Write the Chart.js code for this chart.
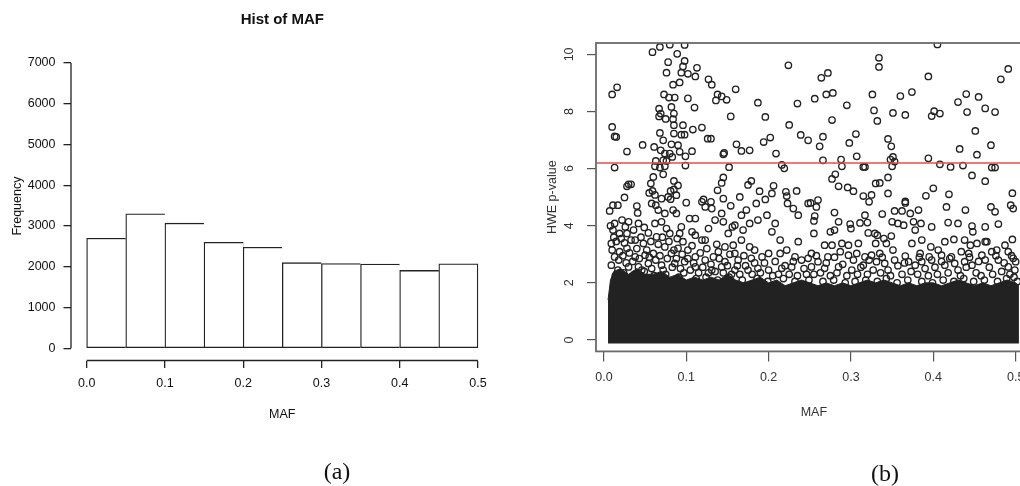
<!DOCTYPE html>
<html>
<head>
<meta charset="utf-8">
<script src="https://cdn.jsdelivr.net/npm/chart.js@4.4.1/dist/chart.umd.min.js"></script>
<style>
  html, body { margin: 0; padding: 0; background: #fff; overflow: hidden; }
  body { width: 1020px; height: 486px; position: relative; }
  canvas { position: absolute; top: 0; }
  #histChart { left: 0; }
  #hweChart { left: 540px; }
  .caption {
    position: absolute;
    font-family: "Liberation Serif", "Times New Roman", serif;
    font-size: 24px;
    color: #111;
    transform: translate(-50%, -50%);
  }
</style>
</head>
<body>
<canvas id="histChart" width="510" height="486"></canvas>
<canvas id="hweChart" width="520" height="486"></canvas>
<div class="caption" style="left:337px;top:471px">(a)</div>
<div class="caption" style="left:885px;top:473px">(b)</div>
<script>
// (a) histogram of MAF
const mafBreaks = [0, 0.05, 0.1, 0.15, 0.2, 0.25, 0.3, 0.35, 0.4, 0.45, 0.5];
const mafCounts = [2700, 3300, 3070, 2600, 2480, 2100, 2080, 2065, 1910, 2075];
const histXTicks = [0, 0.1, 0.2, 0.3, 0.4, 0.5];
const histYTicks = [0, 1000, 2000, 3000, 4000, 5000, 6000, 7000];

// (b) HWE vs MAF
const hweXTicks = [0, 0.1, 0.2, 0.3, 0.4, 0.5];
const hweYTicks = [0, 2, 4, 6, 8, 10];
const hweXMin = -0.0096, hweXMax = 0.5196;
const hweYMin = -0.4, hweYMax = 10.4;
const hweThreshold = 6.2;

// single points that can be told apart (MAF, HWE)
const hwePoints = [
  [0.059,10.08],[0.068,10.26],[0.080,10.34],[0.098,10.33],[0.089,10.02],[0.078,9.73],[0.098,9.77],[0.096,9.58],
  [0.113,9.53],[0.076,9.36],[0.094,9.36],[0.102,9.32],[0.111,9.23],[0.092,9.02],[0.084,8.94],[0.127,9.13],
  [0.131,8.94],[0.016,8.85],[0.010,8.60],[0.073,8.60],[0.079,8.49],[0.086,8.49],[0.102,8.46],[0.138,8.60],
  [0.143,8.53],[0.136,8.39],[0.149,8.41],[0.160,8.78],[0.224,9.62],[0.187,8.31],[0.235,8.28],[0.110,8.14],
  [0.067,8.10],[0.069,7.93],[0.067,7.83],[0.082,8.16],[0.085,7.93],[0.075,7.74],[0.084,7.73],[0.154,7.83],
  [0.196,7.81],[0.010,7.46],[0.013,7.13],[0.015,7.11],[0.096,7.52],[0.085,7.52],[0.108,7.37],[0.119,7.44],
  [0.068,7.25],[0.085,7.23],[0.098,7.19],[0.094,7.19],[0.225,7.53],[0.239,7.18],[0.248,6.99],[0.126,7.05],
  [0.130,7.05],[0.202,7.09],[0.194,6.93],[0.047,6.83],[0.028,6.60],[0.061,6.76],[0.072,6.99],[0.082,6.85],
  [0.090,6.82],[0.069,6.64],[0.074,6.53],[0.080,6.53],[0.083,6.41],[0.092,6.59],[0.099,6.43],[0.107,6.61],
  [0.146,6.55],[0.145,6.50],[0.161,6.85],[0.167,6.62],[0.177,6.64],[0.209,6.53],[0.063,6.27],[0.072,6.29],
  [0.076,6.27],[0.074,6.08],[0.062,6.08],[0.068,6.04],[0.099,6.11],[0.072,5.80],[0.013,6.04],[0.152,6.05],
  [0.216,6.13],[0.219,6.01],[0.060,5.71],[0.057,5.48],[0.030,5.45],[0.033,5.45],[0.028,5.38],[0.085,5.57],
  [0.090,5.41],[0.081,5.22],[0.059,5.22],[0.055,5.15],[0.062,5.08],[0.085,5.27],[0.088,5.07],[0.145,5.69],
  [0.143,5.50],[0.138,5.24],[0.179,5.57],[0.175,5.43],[0.189,5.21],[0.206,5.40],[0.204,5.13],[0.221,5.19],
  [0.222,5.04],[0.234,5.22],[0.025,4.99],[0.070,4.95],[0.081,4.93],[0.121,4.92],[0.145,4.95],[0.165,5.01],
  [0.196,4.92],
  [0.405,10.35],[0.334,9.88],[0.334,9.56],[0.264,9.18],[0.272,9.35],[0.394,9.23],[0.491,9.49],[0.482,9.13],
  [0.256,8.45],[0.270,8.60],[0.278,8.65],[0.295,8.22],[0.326,8.60],[0.360,8.54],[0.374,8.68],[0.328,8.04],
  [0.332,7.67],[0.351,7.95],[0.366,7.88],[0.277,7.70],[0.398,7.84],[0.401,8.01],[0.408,7.93],[0.430,8.33],
  [0.440,8.61],[0.455,8.51],[0.441,7.98],[0.463,8.11],[0.475,7.98],[0.451,7.32],[0.266,7.12],[0.262,6.78],
  [0.298,6.90],[0.306,7.21],[0.345,7.04],[0.349,6.78],[0.266,6.29],[0.288,6.32],[0.289,6.08],[0.307,6.43],
  [0.315,6.06],[0.317,6.06],[0.348,6.32],[0.351,6.41],[0.353,6.25],[0.350,6.08],[0.394,6.36],[0.408,6.15],
  [0.421,6.06],[0.436,6.11],[0.432,6.69],[0.453,6.49],[0.470,6.82],[0.447,5.76],[0.471,6.04],[0.475,6.04],
  [0.281,5.80],[0.277,5.64],[0.285,5.38],[0.296,5.34],[0.303,5.21],[0.315,5.04],[0.325,5.08],[0.330,5.48],
  [0.335,5.50],[0.345,5.69],[0.345,5.13],[0.400,5.31],[0.391,5.05],[0.419,5.10],[0.463,5.56],[0.496,5.14],
  [0.260,4.90],[0.366,4.85],
  [0.011,4.72],[0.017,4.72],[0.007,4.52],[0.040,4.69],[0.041,4.45],[0.078,5.01],[0.058,4.78],[0.063,4.72],
  [0.066,4.55],[0.074,4.43],[0.084,4.55],[0.088,4.43],[0.100,4.81],[0.119,4.84],[0.130,4.84],[0.123,4.66],
  [0.131,4.60],[0.154,4.70],[0.167,4.37],[0.159,4.02],[0.173,4.55],[0.185,4.78],[0.223,4.78],[0.230,4.60],
  [0.236,4.37],[0.248,4.78],[0.198,4.37],[0.187,4.20],[0.177,4.08],[0.169,3.85],[0.208,4.08],[0.204,3.79],
  [0.214,3.50],[0.236,3.44],[0.143,4.43],[0.135,4.20],[0.145,4.14],[0.156,3.96],[0.151,3.73],[0.104,4.25],
  [0.111,4.25],[0.094,3.96],[0.107,3.79],[0.111,3.67],[0.119,3.50],[0.092,3.73],[0.127,3.90],[0.123,3.50],
  [0.096,3.44],[0.022,4.20],[0.030,4.14],[0.026,3.96],[0.013,4.08],[0.011,3.85],[0.019,3.73],[0.028,3.73],
  [0.042,4.08],[0.049,3.94],[0.054,3.75],[0.062,4.08],[0.070,4.14],[0.076,3.90],[0.080,3.73],[0.064,3.61],
  [0.038,3.50],[0.048,3.38],[0.009,3.38],[0.167,3.50],[0.177,3.26],[0.183,3.15],[0.157,3.32],[0.147,3.26],
  [0.159,3.03],[0.139,3.09],[0.133,2.91],[0.102,3.15],[0.090,3.21],[0.082,3.03],[0.074,3.26],[0.060,3.03],
  [0.050,2.97],[0.038,2.91],[0.028,3.21],[0.019,3.09],[0.013,2.91],[0.111,2.91],[0.123,2.80],[0.147,2.74],
  [0.163,2.80],[0.179,2.86],[0.192,2.91],[0.200,3.03],[0.214,3.03],[0.222,3.15],[0.232,2.91],[0.240,2.80],
  [0.248,2.86],[0.228,2.56],[0.216,2.51],[0.200,2.45],[0.187,2.51],[0.175,2.45],[0.159,2.45],[0.143,2.56],
  [0.131,2.45],[0.111,2.56],[0.098,2.74],[0.086,2.68],[0.070,2.62],[0.054,2.68],[0.042,2.56],[0.030,2.56],
  [0.017,2.45],[0.009,2.62],
  [0.322,4.84],[0.251,4.80],[0.258,4.66],[0.256,4.34],[0.255,4.17],[0.255,3.73],[0.280,4.46],[0.285,4.14],
  [0.275,3.79],[0.280,3.85],[0.299,4.06],[0.300,3.90],[0.311,4.10],[0.317,4.37],[0.320,4.11],[0.338,4.41],
  [0.353,4.52],[0.362,4.52],[0.372,4.43],[0.382,4.55],[0.366,4.80],[0.350,4.14],[0.357,4.08],[0.364,4.02],
  [0.376,4.14],[0.378,3.85],[0.385,4.08],[0.398,3.96],[0.416,4.66],[0.439,4.55],[0.470,4.66],[0.475,4.49],
  [0.494,4.72],[0.497,4.60],[0.418,4.11],[0.430,4.08],[0.447,3.99],[0.448,3.79],[0.463,3.96],[0.479,4.06],
  [0.321,3.75],[0.329,3.73],[0.332,3.67],[0.349,3.64],[0.340,3.55],[0.343,3.38],[0.330,3.38],[0.309,3.38],
  [0.297,3.32],[0.289,3.38],[0.268,3.32],[0.277,3.32],[0.374,3.38],[0.386,3.50],[0.397,3.26],[0.414,3.44],
  [0.425,3.52],[0.438,3.50],[0.445,3.32],[0.453,3.38],[0.463,3.44],[0.465,3.44],[0.487,3.32],[0.496,3.52],
  [0.252,3.03],[0.260,2.74],[0.272,2.91],[0.287,3.09],[0.297,2.97],[0.307,3.03],[0.317,2.91],[0.325,2.97],
  [0.335,3.03],[0.351,3.15],[0.366,2.94],[0.384,3.03],[0.395,2.91],[0.406,3.15],[0.410,2.97],[0.422,2.91],
  [0.434,3.09],[0.443,3.03],[0.459,2.97],[0.471,3.09],[0.477,3.15],[0.491,3.09],[0.497,2.86],[0.500,2.74],
  [0.252,2.56],[0.268,2.51],[0.285,2.56],[0.301,2.45],[0.315,2.62],[0.331,2.74],[0.341,2.68],[0.353,2.80],
  [0.370,2.74],[0.378,2.62],[0.386,2.74],[0.398,2.80],[0.414,2.62],[0.426,2.68],[0.438,2.74],[0.447,2.62],
  [0.463,2.80],[0.479,2.80],[0.491,2.56],[0.499,2.45],
  // crowded band just above the saturated mass
  [0.008,4.00],[0.012,3.60],[0.010,3.15],[0.015,3.45],[0.018,2.80],[0.021,3.55],[0.023,2.95],[0.025,3.40],
  [0.027,2.70],[0.031,3.05],[0.033,3.50],[0.035,2.75],[0.036,3.85],[0.040,3.20],[0.043,2.85],[0.045,3.60],
  [0.046,2.45],[0.052,3.15],[0.055,2.90],[0.057,3.45],[0.058,2.50],[0.063,2.80],[0.066,3.35],[0.068,2.95],
  [0.071,3.60],[0.072,2.45],[0.077,2.85],[0.079,3.45],[0.083,2.55],[0.085,3.15],[0.088,2.85],[0.089,3.55],
  [0.093,2.50],[0.095,3.00],[0.097,2.35],[0.102,2.85],[0.105,2.45],[0.107,3.30],[0.109,2.70],[0.115,2.35],
  [0.117,3.05],[0.120,2.55],[0.125,3.20],[0.127,2.35],[0.130,2.65],[0.135,2.40],[0.137,3.35],[0.140,2.85],
  [0.145,2.35],[0.150,2.60],[0.153,3.00],[0.155,2.30],[0.162,2.60],[0.165,2.30],[0.170,2.95],[0.172,2.60],
  [0.180,2.30],[0.183,2.70],[0.190,2.35],[0.195,2.70],[0.205,2.25],[0.208,2.75],[0.212,2.30],[0.220,2.60],
  [0.225,2.30],[0.230,2.75],[0.235,2.25],[0.243,2.50],[0.246,2.30],
  [0.255,2.30],[0.258,2.95],[0.263,2.35],[0.270,2.70],[0.275,2.25],[0.280,2.90],[0.283,2.35],[0.290,2.65],
  [0.295,2.25],[0.303,2.80],[0.308,2.30],[0.312,2.55],[0.320,2.30],[0.322,2.80],[0.327,2.45],[0.336,2.35],
  [0.338,2.90],[0.345,2.45],[0.348,2.25],[0.357,2.60],[0.362,2.30],[0.365,2.70],[0.373,2.40],[0.381,2.30],
  [0.383,2.90],[0.390,2.50],[0.394,2.25],[0.402,2.55],[0.405,2.30],[0.410,2.75],[0.418,2.35],[0.420,2.85],
  [0.430,2.45],[0.433,2.25],[0.440,2.55],[0.444,2.90],[0.452,2.35],[0.455,2.75],[0.458,2.25],[0.468,2.55],
  [0.472,2.30],[0.476,2.95],[0.483,2.40],[0.486,2.70],[0.493,2.30],[0.495,2.95],[0.498,2.20],
  // ragged upper edge of the mass
  [0.014,2.25],[0.024,2.35],[0.037,2.30],[0.049,2.40],[0.061,2.25],[0.075,2.30],[0.091,2.20],[0.112,2.15],
  [0.124,2.20],[0.138,2.10],[0.152,2.20],[0.168,2.10],[0.186,2.15],[0.199,2.05],[0.218,2.15],[0.232,2.05],
  [0.249,2.10],[0.266,2.05],[0.279,2.10],[0.293,2.00],[0.305,2.05],[0.318,2.10],[0.332,2.05],[0.343,2.15],
  [0.356,2.00],[0.369,2.10],[0.386,2.05],[0.399,2.00],[0.412,2.10],[0.425,2.05],[0.437,2.15],[0.449,2.05],
  [0.462,2.10],[0.478,2.05],[0.489,2.15],[0.502,2.05]
];

// upper edge of the saturated black mass of overlapping circles
const cloudMaf = [0.005, 0.008, 0.012, 0.02, 0.03, 0.04, 0.05, 0.06, 0.07, 0.08, 0.09, 0.10, 0.11, 0.12,
  0.13, 0.14, 0.15, 0.16, 0.17, 0.18, 0.19, 0.20, 0.21, 0.22, 0.23, 0.24, 0.25, 0.26, 0.27, 0.28, 0.29,
  0.30, 0.31, 0.32, 0.33, 0.34, 0.35, 0.36, 0.37, 0.38, 0.39, 0.40, 0.41, 0.42, 0.43, 0.44, 0.45, 0.46,
  0.47, 0.48, 0.49, 0.50, 0.504];
const cloudTop = [1.4, 2.1, 2.4, 2.5, 2.3, 2.5, 2.3, 2.3, 2.4, 2.2, 2.3, 2.1, 2.2, 2.1,
  2.2, 2.1, 2.3, 2.1, 2.0, 2.1, 2.2, 2.0, 2.1, 1.9, 2.0, 2.1, 2.0, 1.9, 2.0, 1.9, 2.0,
  1.9, 2.0, 2.1, 2.0, 2.1, 2.0, 1.9, 2.0, 1.9, 2.0, 2.0, 1.9, 2.0, 2.1, 2.0, 1.9, 2.0,
  1.9, 2.0, 2.1, 2.0, 1.9];
const cloudBase = -0.12;

const sansFont = '"Liberation Sans", Arial, Helvetica, sans-serif';
Chart.defaults.font.family = sansFont;
Chart.defaults.animation = false;

function fixTicks(values) {
    return scale => {
        scale.ticks = values.map(v => ({value: v}));
    };
}

// R draws its axis line only from first to last tick
const histAxes = {
    id: 'histAxes',
    afterDraw(chart) {
        const {ctx, chartArea, scales: {x, y}} = chart;
        ctx.save();
        ctx.strokeStyle = '#222';
        ctx.lineWidth = 1.3;
        ctx.beginPath();
        ctx.moveTo(chartArea.left, y.getPixelForValue(histYTicks[0]));
        ctx.lineTo(chartArea.left, y.getPixelForValue(histYTicks[histYTicks.length - 1]));
        ctx.moveTo(x.getPixelForValue(histXTicks[0]), chartArea.bottom);
        ctx.lineTo(x.getPixelForValue(histXTicks[histXTicks.length - 1]), chartArea.bottom);
        ctx.stroke();
        ctx.restore();
    }
};

// box round the plot region and y labels turned like R's las=0
const hweBox = {
    id: 'hweBox',
    afterDatasetsDraw(chart) {
        const {ctx, chartArea: a, scales: {y}} = chart;
        ctx.save();
        ctx.strokeStyle = '#6a6a6a';
        ctx.lineWidth = 1.8;
        ctx.strokeRect(a.left, a.top, a.right - a.left, a.bottom - a.top);
        ctx.fillStyle = '#333';
        ctx.font = '12.5px ' + sansFont;
        ctx.textAlign = 'center';
        ctx.textBaseline = 'middle';
        hweYTicks.forEach(v => {
            ctx.save();
            ctx.translate(y.right - 26, y.getPixelForValue(v));
            ctx.rotate(-Math.PI / 2);
            ctx.fillText(String(v), 0, 0);
            ctx.restore();
        });
        ctx.restore();
    }
};

new Chart(document.getElementById('histChart'), {
    type: 'bar',
    data: {
        datasets: [{
            data: mafCounts.map((c, i) => ({x: (mafBreaks[i] + mafBreaks[i + 1]) / 2, y: c})),
            backgroundColor: '#fff',
            borderColor: '#222',
            borderWidth: ctx => ({
                top: 1.3, bottom: 1.3, left: 1.3,
                right: ctx.dataIndex === mafCounts.length - 1 ? 1.3 : 0
            }),
            borderSkipped: false,
            barPercentage: 1,
            categoryPercentage: 1
        }]
    },
    options: {
        responsive: false,
        events: [],
        layout: {padding: {top: 0, right: 16.4, bottom: 0, left: 0}, autoPadding: false},
        plugins: {
            legend: {display: false},
            tooltip: {enabled: false},
            title: {
                display: true,
                text: 'Hist of MAF',
                fullSize: false,
                color: '#111',
                font: {size: 15, weight: 'bold'},
                padding: {top: 11, bottom: 22.6}
            }
        },
        scales: {
            x: {
                type: 'linear',
                min: -0.02,
                max: 0.52,
                offset: false,
                afterBuildTicks: fixTicks(histXTicks),
                afterFit: s => { s.height = 125.5; },
                border: {display: false},
                grid: {offset: false, drawOnChartArea: false, tickLength: 7.5, color: '#222', lineWidth: 1.3},
                ticks: {color: '#111', padding: 8.5, font: {size: 12.5}, maxRotation: 0, callback: v => v.toFixed(1)},
                title: {display: true, text: 'MAF', color: '#111', font: {size: 12.5}, padding: {top: 0, bottom: 63.5}}
            },
            y: {
                type: 'linear',
                min: -300,
                max: 7280,
                afterBuildTicks: fixTicks(histYTicks),
                afterFit: s => { s.width = 71; },
                border: {display: false},
                grid: {drawOnChartArea: false, tickLength: 7.5, color: '#222', lineWidth: 1.3},
                ticks: {color: '#111', padding: 8, font: {size: 12.5}, callback: v => String(v)},
                title: {display: true, text: 'Frequency', color: '#111', font: {size: 12.5}, padding: {top: 10, bottom: 0}}
            }
        }
    },
    plugins: [histAxes]
});

new Chart(document.getElementById('hweChart'), {
    type: 'scatter',
    data: {
        datasets: [
            {
                type: 'line',
                data: [{x: hweXMin, y: hweThreshold}, {x: hweXMax, y: hweThreshold}],
                borderColor: 'rgb(222, 82, 82)',
                borderWidth: 1.6,
                pointRadius: 0,
                fill: false
            },
            {
                data: hwePoints.map(p => ({x: p[0], y: p[1]})),
                pointRadius: 3.2,
                pointBorderWidth: 1.35,
                borderColor: '#222',
                pointBorderColor: '#222',
                backgroundColor: 'rgba(0,0,0,0)',
                pointBackgroundColor: 'rgba(0,0,0,0)',
                clip: 0
            },
            {
                type: 'line',
                data: cloudMaf.map((m, i) => ({x: m, y: cloudTop[i]})),
                borderColor: '#222',
                borderWidth: 1,
                backgroundColor: '#222',
                pointRadius: 0,
                fill: {value: cloudBase}
            }
        ]
    },
    options: {
        responsive: false,
        events: [],
        layout: {padding: {top: 43, right: 28.2, bottom: 0, left: 0}, autoPadding: false},
        plugins: {
            legend: {display: false},
            tooltip: {enabled: false}
        },
        scales: {
            x: {
                type: 'linear',
                min: hweXMin,
                max: hweXMax,
                afterBuildTicks: fixTicks(hweXTicks),
                afterFit: s => { s.height = 134.6; },
                border: {display: false},
                grid: {drawOnChartArea: false, tickLength: 10, color: '#555', lineWidth: 1.2},
                ticks: {color: '#333', padding: 8.7, font: {size: 12.5}, maxRotation: 0, callback: v => v.toFixed(1)},
                title: {display: true, text: 'MAF', color: '#333', font: {size: 12.5}, padding: {top: 0, bottom: 65.8}}
            },
            y: {
                type: 'linear',
                min: hweYMin,
                max: hweYMax,
                afterBuildTicks: fixTicks(hweYTicks),
                afterFit: s => { s.width = 56; },
                border: {display: false},
                grid: {drawOnChartArea: false, tickLength: 9, color: '#555', lineWidth: 1.2},
                ticks: {display: false},
                title: {display: true, text: 'HWE p-value', color: '#333', font: {size: 12.5}, padding: {top: 5.5, bottom: 0}}
            }
        }
    },
    plugins: [hweBox]
});
</script>
</body>
</html>
